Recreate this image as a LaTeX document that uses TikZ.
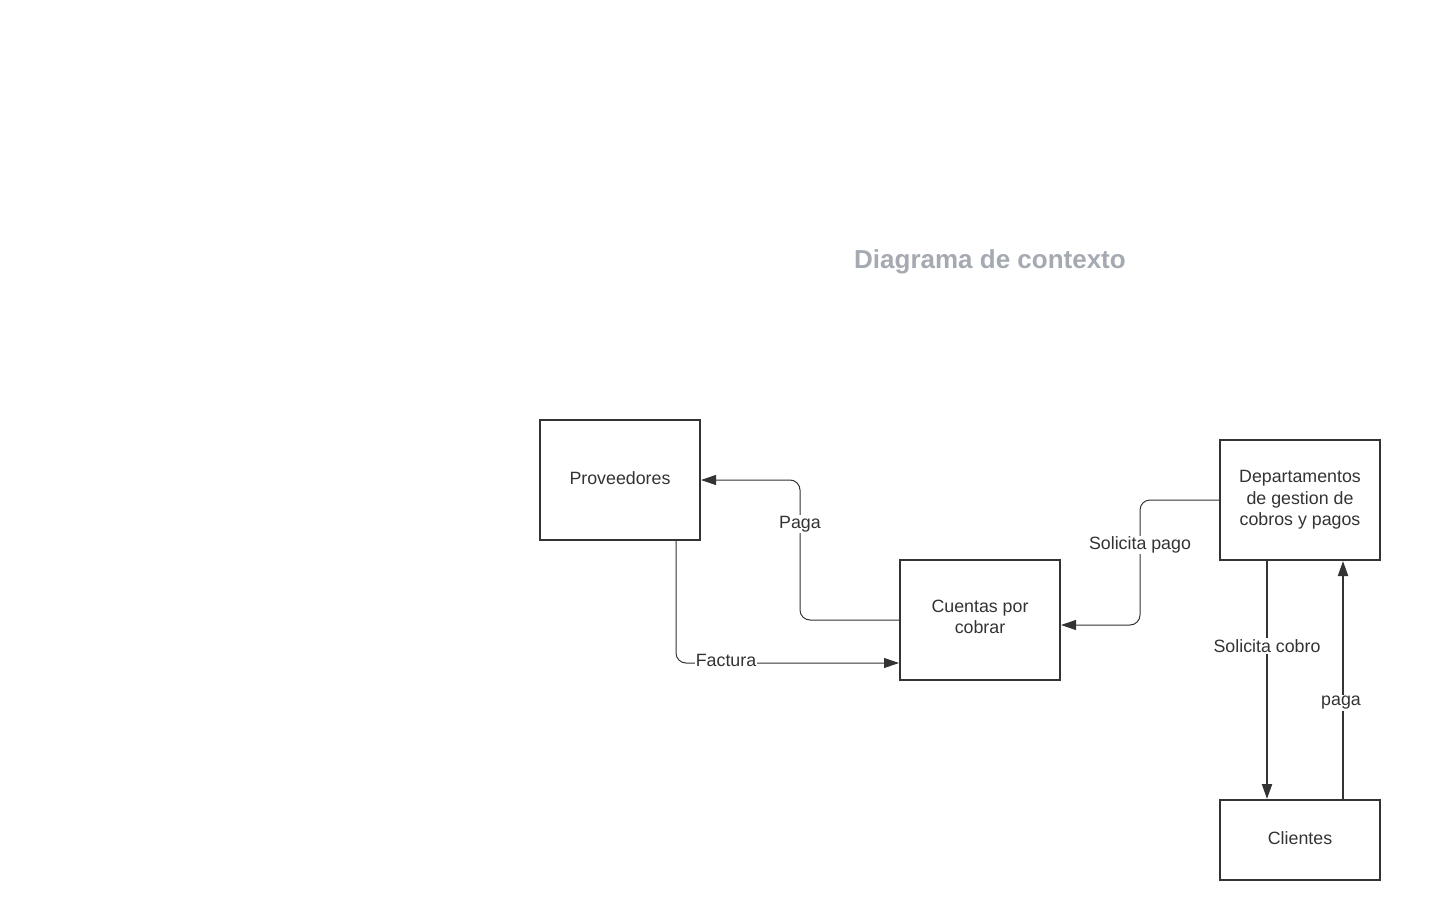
\documentclass[tikz,border=0pt]{standalone}
\usepackage{fontspec}
\setmainfont{Liberation Sans}
\usetikzlibrary{arrows.meta,calc}
\definecolor{ink}{HTML}{333333}
\definecolor{titlegray}{HTML}{A4A9B2}
\begin{document}
\begin{tikzpicture}[x=1pt,y=-1pt,
  box/.style={draw=ink,line width=2pt,minimum width=160pt,text=ink,align=center,font=\fontsize{17.8}{21.5}\selectfont,inner sep=0pt},
  flow/.style={draw=ink,line width=1pt,rounded corners=10pt,-{Triangle[length=15pt,width=10pt]}},
  thickflow/.style={draw=ink,line width=2pt,-{Triangle[length=15pt,width=10pt]}},
  lbl/.style={fill=white,text=ink,font=\fontsize{17.8}{21.5}\selectfont,inner sep=1pt}]
\useasboundingbox (0,0) rectangle (1453,920);
\node[font=\bfseries\fontsize{26}{30}\selectfont,text=titlegray] (title) at (990,262) {Diagrama de contexto};
\node[box,minimum height=120pt] (prov) at (620,480) {Proveedores\strut};
\node[box,minimum height=120pt] (cxc) at (980,620) {Cuentas por\\cobrar\strut};
\node[box,minimum height=120pt] (dept) at (1300,500) {Departamentos\\de gestion de\\cobros y pagos};
\node[box,minimum height=80pt] (cli) at (1300,840) {Clientes\strut};
% Paga
\draw[flow] (cxc.west) -| (800,480) -- (prov.east);
\node[lbl] (lpaga) at (800,524) {Paga};
% Factura
\draw[flow] ($(prov.south east)+(-25,0)$) |- ($(cxc.south west)+(0,-18)$);
\node[lbl] (lfact) at (726,660) {Factura};
% Solicita pago
\draw[flow] (dept.west) -| (1140,625) -- ($(cxc.east)+(0,5)$);
\node[lbl] (lsp) at (1140,545) {Solicita pago};
% Solicita cobro
\draw[thickflow] ($(dept.south west)+(48,0)$) -- ($(cli.north west)+(48,0)$);
\node[lbl] (lsc) at (1267,646) {Solicita cobro};
% paga
\draw[thickflow] ($(cli.north east)+(-38,0)$) -- ($(dept.south east)+(-38,0)$);
\node[lbl] (lpg) at (1341,703) {paga};
\end{tikzpicture}
\end{document}
